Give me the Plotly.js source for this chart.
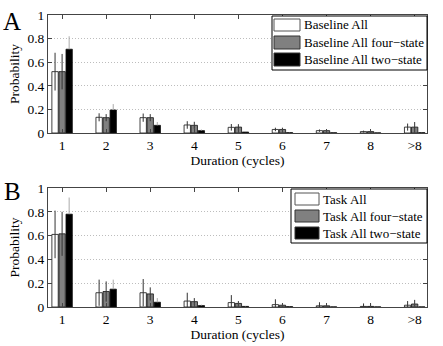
<!DOCTYPE html>
<html><head><meta charset="utf-8">
<script src="https://cdn.plot.ly/plotly-3.0.1.min.js"></script>
<style>body{margin:0;padding:0;background:#fff}#c{width:443px;height:346px}</style>
</head><body><div id="c"></div>
<script>
const durations = [1,2,3,4,5,6,7,8,9];
const durationLabels = ["1","2","3","4","5","6","7","8",">8"];

const baseAll      = [0.52, 0.133, 0.13, 0.068, 0.048, 0.03, 0.02, 0.012, 0.05];
const baseAllErr   = [0.16, 0.034, 0.035, 0.032, 0.028, 0.015, 0.01, 0.008, 0.03];
const baseFour     = [0.52, 0.13, 0.13, 0.065, 0.05, 0.03, 0.02, 0.012, 0.05];
const baseFourErr  = [0.15, 0.03, 0.03, 0.03, 0.025, 0.015, 0.01, 0.008, 0.043];
const baseTwo      = [0.71, 0.195, 0.065, 0.02, 0.008, 0.003, 0.002, 0.001, 0.003];
const baseTwoErr   = [0.11, 0.05, 0.028, 0.01, 0.004, 0.002, 0.001, 0.001, 0.002];

const taskAll      = [0.61, 0.12, 0.12, 0.05, 0.037, 0.02, 0.01, 0.005, 0.015];
const taskAllErr   = [0.20, 0.11, 0.115, 0.07, 0.063, 0.045, 0.03, 0.025, 0.035];
const taskFour     = [0.615, 0.13, 0.11, 0.045, 0.03, 0.015, 0.01, 0.005, 0.025];
const taskFourErr  = [0.185, 0.085, 0.055, 0.03, 0.02, 0.015, 0.02, 0.025, 0.035];
const taskTwo      = [0.78, 0.15, 0.04, 0.012, 0.005, 0.003, 0.001, 0.001, 0.001];
const taskTwoErr   = [0.14, 0.08, 0.035, 0.008, 0.003, 0.002, 0.001, 0.001, 0.001];

const baseNames = ["Baseline All", "Baseline All four\u2212state", "Baseline All two\u2212state"];
const taskNames = ["Task All", "Task All four\u2212state", "Task All two\u2212state"];
const fills = ['#ffffff', '#808080', '#000000'];

const serif = 'Liberation Serif';
const zeros = durations.map(() => 0);
const W = 443, H = 346;
const px = v => v / W, py = v => (H - v) / H;

function tr(name, y, err, fill, errColor, xa, ya, upperOnly) {
  const e = {type:'data', array: err, visible:true, color: errColor, thickness:1, width:0};
  if (upperOnly) { e.symmetric = false; e.arrayminus = zeros; }
  return {type:'bar', name:name, x:durations, y:y, xaxis:xa, yaxis:ya, showlegend:false,
    marker:{color:fill, line:{color:'#111', width:0.8}}, error_y:e};
}

const data = [
  tr(baseNames[0], baseAll, baseAllErr, fills[0], '#333', 'x', 'y'),
  tr(baseNames[1], baseFour, baseFourErr, fills[1], '#333', 'x', 'y'),
  tr(baseNames[2], baseTwo, baseTwoErr, fills[2], '#aaa', 'x', 'y', true),
  tr(taskNames[0], taskAll, taskAllErr, fills[0], '#333', 'x2', 'y2'),
  tr(taskNames[1], taskFour, taskFourErr, fills[1], '#333', 'x2', 'y2'),
  tr(taskNames[2], taskTwo, taskTwoErr, fills[2], '#aaa', 'x2', 'y2', true)
];

const f = (s) => ({family:serif, size:s, color:'#000', weight:'normal'});

function xax(anchor, dom) {
  return {domain:dom, anchor:anchor, range:[0.68, 9.28], tickmode:'array', tickvals:durations,
    ticktext:durationLabels, ticks:'inside', ticklen:4, tickcolor:'#444', showline:true,
    linecolor:'#444', linewidth:1, mirror:'ticks', showgrid:false, zeroline:false,
    tickfont:f(13.5),
    title:{text:'Duration (cycles)', font:f(13.5), standoff:1}};
}
function yax(anchor, dom) {
  return {domain:dom, anchor:anchor, range:[0,1], tickvals:[0,0.2,0.4,0.6,0.8,1],
    ticktext:["0","0.2","0.4","0.6","0.8","1"], ticks:'inside', ticklen:4, tickcolor:'#444',
    showline:true, linecolor:'#444', linewidth:1, mirror:'ticks', showgrid:true,
    gridcolor:'#bdbdbd', griddash:'1px,2px', gridwidth:1, zeroline:false,
    tickfont:f(13.5),
    title:{text:'Probability', font:f(13.5), standoff:4}};
}

// manual legends (box, swatches, labels) in pixel positions
const shapes = [], annotations = [];
function legendBox(x0, y0, x1, y1, swX0, swX1, rows, names) {
  shapes.push({type:'rect', xref:'paper', yref:'paper', x0:px(x0), x1:px(x1), y0:py(y1), y1:py(y0),
    line:{color:'#000', width:1}, fillcolor:'#fff', layer:'above'});
  rows.forEach((r, i) => {
    shapes.push({type:'rect', xref:'paper', yref:'paper', x0:px(swX0), x1:px(swX1), y0:py(r[1]), y1:py(r[0]),
      line:{color: i === 0 ? '#555' : '#333', width:1}, fillcolor:fills[i], layer:'above'});
    annotations.push({text:names[i], xref:'paper', yref:'paper', x:px(swX1 + 2), y:py((r[0] + r[1]) / 2),
      xanchor:'left', yanchor:'middle', showarrow:false, font:f(13)});
  });
}
legendBox(272, 16, 427, 70, 274, 300, [[19,31],[36,49],[53,66]], baseNames);
legendBox(291, 189, 427, 243, 295, 319, [[193,205],[210,222],[227,239]], taskNames);

annotations.push({text:'A', xref:'paper', yref:'paper', x:px(12), y:py(21), showarrow:false,
  font:f(25), xanchor:'center', yanchor:'middle'});
annotations.push({text:'B', xref:'paper', yref:'paper', x:px(12), y:py(191), showarrow:false,
  font:f(25), xanchor:'center', yanchor:'middle'});

const xd = [px(48), px(427)];
const layout = {
  width:W, height:H, margin:{l:0,r:0,t:0,b:0}, paper_bgcolor:'#fff', plot_bgcolor:'#fff',
  font:f(13.5),
  barmode:'group', bargap:0.52, bargroupgap:0.1, showlegend:false,
  xaxis: xax('y', xd), yaxis: yax('x', [py(133), py(15)]),
  xaxis2: xax('y2', xd), yaxis2: yax('x2', [py(307), py(188)]),
  shapes: shapes, annotations: annotations
};
Plotly.newPlot('c', data, layout, {displayModeBar:false, staticPlot:true});
</script></body></html>
